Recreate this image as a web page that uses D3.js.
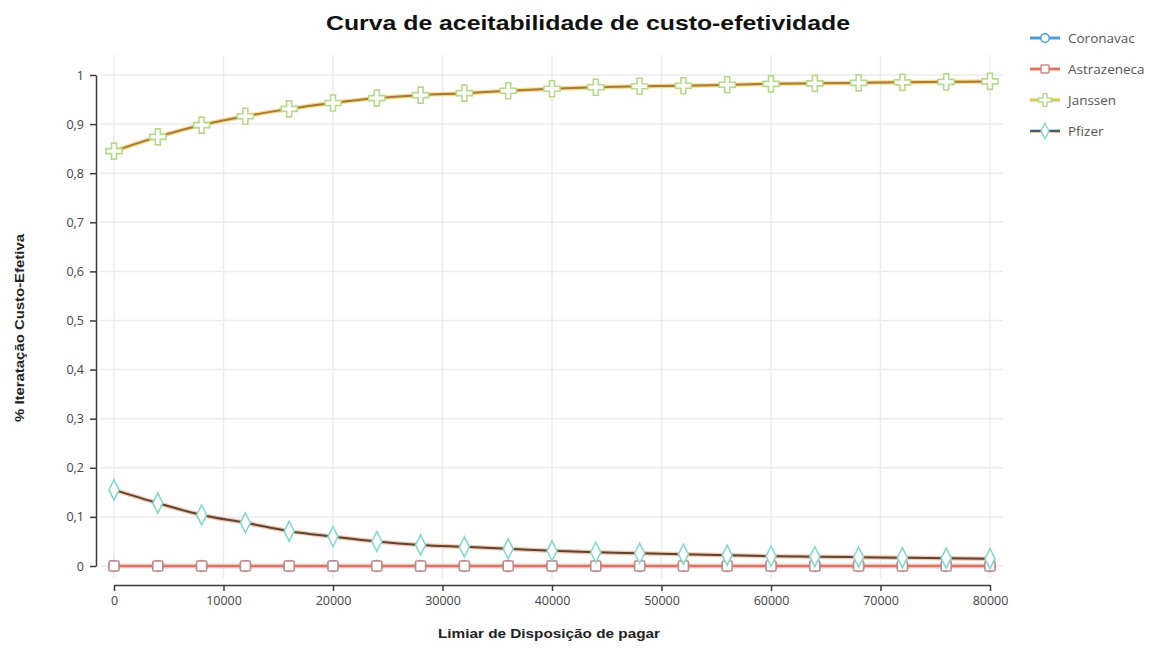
<!DOCTYPE html>
<html><head><meta charset="utf-8">
<script src="https://cdn.jsdelivr.net/npm/d3@7"></script>
<style>body{margin:0;background:#fff}svg{display:block}</style>
</head><body>
<svg id="c" width="1160" height="648"></svg>
<script>
const thresholds = [0,4000,8000,12000,16000,20000,24000,28000,32000,36000,40000,44000,48000,52000,56000,60000,64000,68000,72000,76000,80000];
const coronavac = [0,0,0,0,0,0,0,0,0,0,0,0,0,0,0,0,0,0,0,0,0];
const astrazeneca = [0,0,0,0,0,0,0,0,0,0,0,0,0,0,0,0,0,0,0,0,0];
const janssen = [0.845,0.874,0.898,0.916,0.931,0.943,0.953,0.959,0.963,0.968,0.972,0.975,0.977,0.978,0.980,0.982,0.983,0.984,0.985,0.986,0.987];
const pfizer = [0.155,0.128,0.104,0.088,0.071,0.060,0.050,0.043,0.039,0.035,0.031,0.028,0.026,0.024,0.022,0.020,0.019,0.018,0.017,0.016,0.015];
const xTicks = [0,10000,20000,30000,40000,50000,60000,70000,80000];
const yTicks = [0,0.1,0.2,0.3,0.4,0.5,0.6,0.7,0.8,0.9,1];
const seriesNames = ["Coronavac","Astrazeneca","Janssen","Pfizer"];
const titleText = "Curva de aceitabilidade de custo-efetividade";
const xTitle = "Limiar de Disposição de pagar";
const yTitle = "% Iteratação Custo-Efetiva";

const svg = d3.select("#c");
const x = d3.scaleLinear().domain([0,80000]).range([114,990]);
const y = d3.scaleLinear().domain([0,1]).range([566,75]);
const fmtY = v => d3.format("~g")(+v.toFixed(1)).replace(".", ",");

// grid
const g = svg.append("g");
g.selectAll(".vg").data(xTicks).join("line")
  .attr("x1",d=>x(d)).attr("x2",d=>x(d)).attr("y1",55).attr("y2",578)
  .attr("stroke","#ebebeb").attr("stroke-width",1.5);
g.selectAll(".hg").data(yTicks).join("line")
  .attr("x1",100).attr("x2",1003).attr("y1",d=>y(d)).attr("y2",d=>y(d))
  .attr("stroke","#ebebeb").attr("stroke-width",1.5);

// axes
const xAxis = d3.axisBottom(x).tickValues(xTicks).tickSize(6).tickSizeOuter(0).tickPadding(5).tickFormat(d3.format("d"));
const xg = svg.append("g").attr("transform","translate(0,585)").call(xAxis);
const yAxis = d3.axisLeft(y).tickValues(yTicks).tickSize(6).tickSizeOuter(0).tickPadding(6).tickFormat(fmtY);
const yg = svg.append("g").attr("transform","translate(96,0)").call(yAxis);
[xg,yg].forEach(a=>{
  a.selectAll("path,line").attr("stroke","#3a3a3a").attr("stroke-width",1.5);
  a.selectAll("text").attr("fill","#444").style("font-family","'Open Sans',sans-serif").style("font-size","12.5px");
});

// titles
svg.append("text").attr("x",588).attr("y",30).attr("text-anchor","middle")
  .attr("textLength",524).attr("lengthAdjust","spacingAndGlyphs")
  .style("font-family","'Liberation Sans',Arial,sans-serif").style("font-weight","bold").style("font-size","21px").attr("fill","#111").text(titleText);
svg.append("text").attr("x",549).attr("y",638).attr("text-anchor","middle")
  .attr("textLength",222).attr("lengthAdjust","spacingAndGlyphs")
  .style("font-family","'Liberation Sans',Arial,sans-serif").style("font-weight","bold").style("font-size","13px").attr("fill","#222").text(xTitle);
svg.append("text").attr("transform","translate(24,328) rotate(-90)").attr("text-anchor","middle")
  .attr("textLength",188).attr("lengthAdjust","spacingAndGlyphs")
  .style("font-family","'Liberation Sans',Arial,sans-serif").style("font-weight","bold").style("font-size","13px").attr("fill","#222").text(yTitle);

const line = d3.line().x((d,i)=>x(thresholds[i])).y(d=>y(d)).curve(d3.curveMonotoneX);

const series = [
  {name:seriesNames[0], data:coronavac, outer:"#a9d2ee", inner:"#4a9ad4", marker:"circle", mstroke:"#4a9ad4"},
  {name:seriesNames[1], data:astrazeneca, outer:"#f6c2b6", inner:"#e2705e", marker:"square", mstroke:"#c78a88"},
  {name:seriesNames[2], data:janssen, outer:"#f2dc8a", inner:"#a7773f", marker:"cross", mstroke:"#b7d98c"},
  {name:seriesNames[3], data:pfizer, outer:"#f3c6ad", inner:"#5a4436", marker:"diamond", mstroke:"#86d8cf"}
];

function markerPath(type){
  if(type==="circle") return d3.symbol(d3.symbolCircle,90)();
  if(type==="square") return "M-5,-4 Q-5,-5 -4,-5 L4,-5 Q5,-5 5,-4 L5,4 Q5,5 4,5 L-4,5 Q-5,5 -5,4 Z";
  if(type==="cross") return "M-2.5,-8 L2.5,-8 L2.5,-2.5 L8,-2.5 L8,2.5 L2.5,2.5 L2.5,8 L-2.5,8 L-2.5,2.5 L-8,2.5 L-8,-2.5 L-2.5,-2.5 Z";
  if(type==="diamond") return "M0,-10 L5,0 L0,10 L-5,0 Z";
}

// lines
series.forEach(s=>{
  svg.append("path").datum(s.data).attr("d",line).attr("fill","none").attr("stroke",s.outer).attr("stroke-width",4.5).attr("stroke-linejoin","round");
  svg.append("path").datum(s.data).attr("d",line).attr("fill","none").attr("stroke",s.inner).attr("stroke-width",2).attr("stroke-linejoin","round");
});
// markers
series.forEach(s=>{
  svg.append("g").selectAll("path").data(s.data).join("path")
    .attr("transform",(d,i)=>`translate(${x(thresholds[i])},${y(d)})`)
    .attr("d",markerPath(s.marker)).attr("fill","#fff").attr("stroke",s.mstroke).attr("stroke-width",1.6);
});

// legend
const lg = svg.append("g");
series.forEach((s,i)=>{
  const yy = 38 + i*31;
  lg.append("line").attr("x1",1030).attr("x2",1060).attr("y1",yy).attr("y2",yy).attr("stroke",s.outer).attr("stroke-width",4);
  lg.append("line").attr("x1",1030).attr("x2",1060).attr("y1",yy).attr("y2",yy).attr("stroke",s.name==="Janssen"?"#c8cf6e":(s.name==="Pfizer"?"#3f5f62":s.inner)).attr("stroke-width",2);
  lg.append("path").attr("transform",`translate(1045,${yy}) scale(0.8)`).attr("d",markerPath(s.marker)).attr("fill","#fff").attr("stroke",s.mstroke).attr("stroke-width",1.8);
  lg.append("text").attr("x",1068).attr("y",yy+5).text(s.name)
    .style("font-family","'Open Sans',sans-serif").style("font-size","13.5px").attr("fill","#555");
});
</script>
</body></html>
